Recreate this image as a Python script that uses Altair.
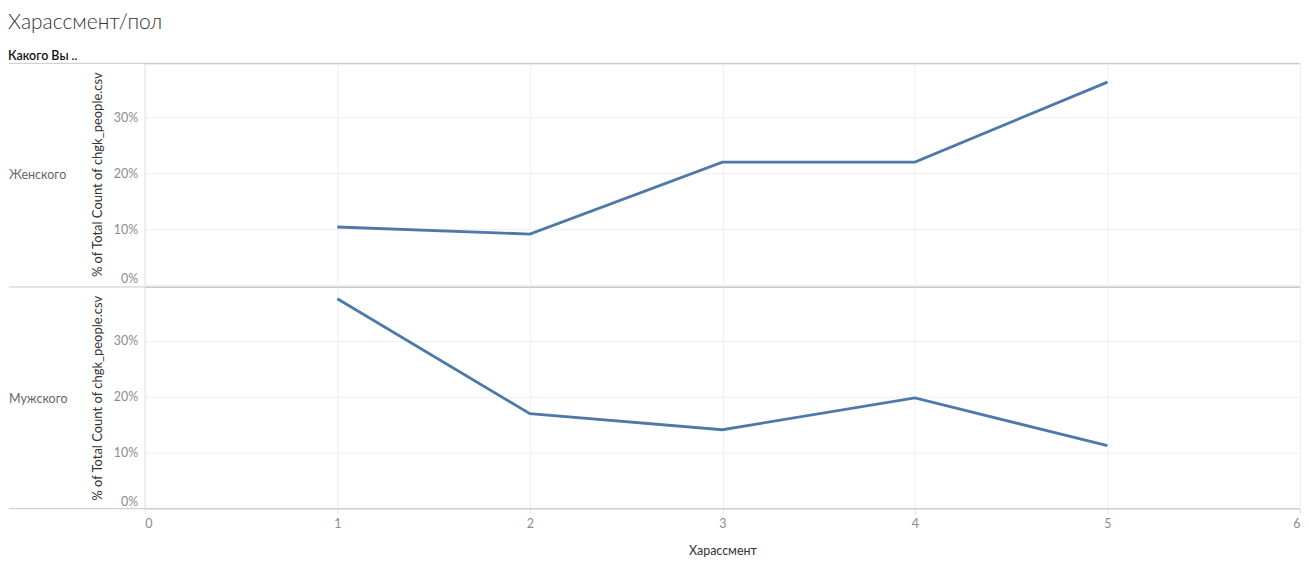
import altair as alt
import pandas as pd

# Data
genders = ["Женского", "Мужского"]
harassment = [1, 2, 3, 4, 5]
female_pct = [0.1036, 0.091, 0.2196, 0.2196, 0.3625]
male_pct = [0.375, 0.1696, 0.141, 0.198, 0.1125]

rows = []
for g, vals in zip(genders, [female_pct, male_pct]):
    for h, v in zip(harassment, vals):
        rows.append({"gender": g, "h": h, "pct": v})
df = pd.DataFrame(rows)

W = 1157
H = 222
LEFT = 136
FONT = "Lato"
GRID = "#efefef"
BORDER = "#c8c8c8"


def panel(g, last):
    sub = df[df.gender == g]
    if last:
        xaxis = alt.Axis(values=list(range(7)), format="d", title="Харассмент",
                         grid=True, gridColor=GRID, ticks=True, tickSize=5,
                         tickColor="#e0e0e0", domain=False, labelPadding=4,
                         labelFlush=True, labelColor="#8c8c8c", labelFontSize=12.5,
                         titleFontSize=12.5, titleColor="#333", titleFontWeight="normal",
                         titlePadding=14, labelFont=FONT, titleFont=FONT)
    else:
        xaxis = alt.Axis(values=list(range(7)), grid=True, gridColor=GRID,
                         labels=False, ticks=False, domain=False, title=None)
    line = alt.Chart(sub).mark_line(color="#4e79a7", strokeWidth=2.8).encode(
        x=alt.X("h:Q", scale=alt.Scale(domain=[0, 6], nice=False), axis=xaxis),
        y=alt.Y("pct:Q", scale=alt.Scale(domain=[0, 0.396], nice=False),
                axis=alt.Axis(values=[0, 0.1, 0.2, 0.3], format=".0%",
                              title="% of Total Count of chgk_people.csv",
                              grid=True, gridColor=GRID, ticks=False, domain=False,
                              labelPadding=7, labelFlush=True, labelColor="#8c8c8c",
                              labelFontSize=12.5, titleFontSize=13, titleColor="#333",
                              titleFontWeight="normal", titlePadding=9,
                              labelFont=FONT, titleFont=FONT)),
    )
    deco = pd.DataFrame({"k": [0]})
    top_rule = alt.Chart(deco).mark_rule(color=BORDER, strokeWidth=1).encode(
        x=alt.value(-LEFT), x2=alt.value(W), y=alt.value(0))
    label = alt.Chart(pd.DataFrame({"g": [g]})).mark_text(
        align="left", baseline="middle", font=FONT, fontSize=12.5, color="#666"
    ).encode(text="g:N", x=alt.value(-LEFT), y=alt.value(112))
    layers = [line, top_rule, label]
    if last:
        bottom_rule = alt.Chart(deco).mark_rule(color=BORDER, strokeWidth=1).encode(
            x=alt.value(-LEFT), x2=alt.value(W), y=alt.value(H))
        layers.append(bottom_rule)
    return alt.layer(*layers).properties(width=W, height=H)


chart = alt.vconcat(panel(genders[0], False), panel(genders[1], True), spacing=0).properties(
    title=alt.TitleParams(
        text="Харассмент/пол", subtitle="Какого Вы ..", anchor="start", frame="bounds",
        font=FONT, fontSize=21, fontWeight=300, color="#333",
        subtitleFont=FONT, subtitleFontSize=12.5, subtitleColor="#111",
        subtitleFontWeight=600, subtitlePadding=17, offset=0),
    padding={"left": 0, "top": 3, "right": 0, "bottom": 0},
).configure_view(stroke=BORDER, strokeWidth=1).configure_concat(spacing=0)

chart.save("out.html", embed_options={"renderer": "svg", "actions": False})
